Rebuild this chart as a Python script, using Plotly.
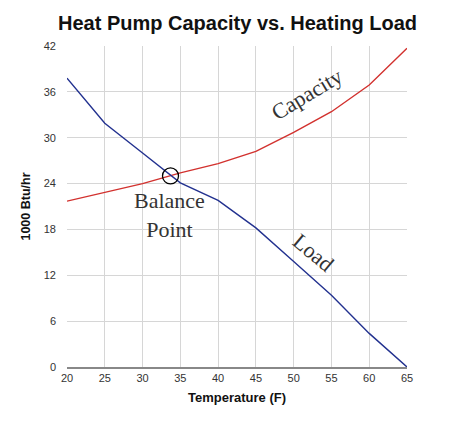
import plotly.graph_objects as go

# Temperatur in °F
temperature = [20, 25, 30, 35, 40, 45, 50, 55, 60, 65]
# Heizleistung der Wärmepumpe (1000 Btu/hr)
capacity = [21.7, 22.8, 24.0, 25.4, 26.6, 28.2, 30.7, 33.4, 36.9, 41.7]
# Heizlast des Gebäudes (1000 Btu/hr)
load = [37.8, 31.9, 28.0, 24.1, 21.8, 18.2, 13.8, 9.4, 4.4, 0.0]
balance_point = [33.7, 25.0]
y_ticks = [0, 6, 12, 18, 24, 30, 36, 42]

fig = go.Figure()
fig.add_trace(go.Scatter(x=temperature, y=capacity, mode="lines",
                         line=dict(color="#d2312e", width=1.4), showlegend=False))
fig.add_trace(go.Scatter(x=temperature, y=load, mode="lines",
                         line=dict(color="#22318f", width=1.4), showlegend=False))
fig.add_trace(go.Scatter(x=[balance_point[0]], y=[balance_point[1]], mode="markers",
                         marker=dict(symbol="circle-open", size=16, color="black",
                                     line=dict(width=1.3, color="black")),
                         showlegend=False))

serif = "Palatino Linotype, Liberation Serif, DejaVu Serif, serif"
fig.add_annotation(x=51.7, y=35.6, text="Capacity", showarrow=False, textangle=-31,
                   font=dict(family=serif, size=22, color="#333333"))
fig.add_annotation(x=33.6, y=19.9, text="Balance<br>Point", showarrow=False,
                   font=dict(family=serif, size=22, color="#333333"))
fig.add_annotation(x=52.6, y=15.0, text="Load", showarrow=False, textangle=40,
                   font=dict(family=serif, size=22, color="#333333"))

# Seite hat 8px Rand im Body -> Ränder entsprechend verschoben
fig.update_layout(
    width=450, height=425,
    margin=dict(l=59, r=51, t=38, b=66),
    paper_bgcolor="white", plot_bgcolor="white",
    title=dict(text="<b>Heat Pump Capacity vs. Heating Load</b>", x=0.51, xanchor="center",
               y=0.965, yanchor="middle",
               font=dict(family="Liberation Sans, Arial, sans-serif", size=20, color="#111111")),
    font=dict(family="Liberation Sans, Arial, sans-serif", size=11, color="#333333"),
    xaxis=dict(range=[20, 65], tickvals=temperature, showgrid=True, gridcolor="#d6d6d6",
               zeroline=False, showline=True, linecolor="#888888", linewidth=1.5,
               mirror=False, ticks="",
               title=dict(text="<b>Temperature (F)</b>", font=dict(size=13, color="#111111"),
                          standoff=10)),
    yaxis=dict(range=[0, 42], tickvals=y_ticks, showgrid=True, gridcolor="#d6d6d6",
               zeroline=False, showline=False, ticks="", ticklabelstandoff=10,
               title=dict(text="<b>1000 Btu/hr</b>", font=dict(size=12.5, color="#111111"),
                          standoff=10)),
)

fig.write_html("out.html")
